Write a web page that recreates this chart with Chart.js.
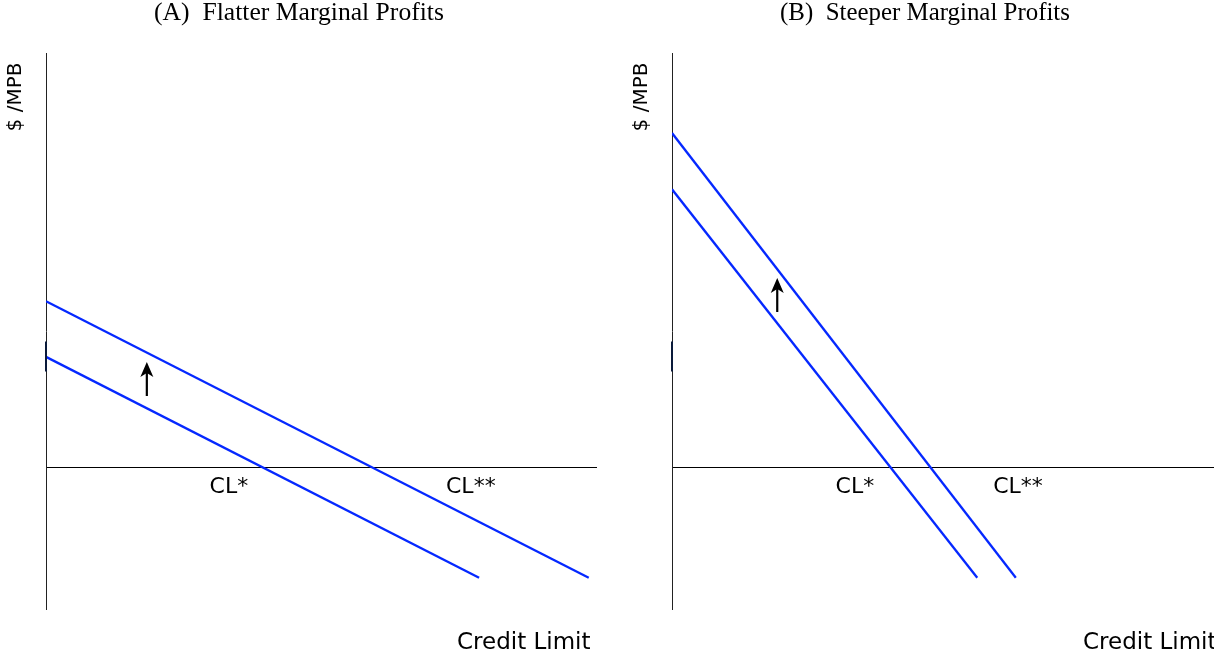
<!DOCTYPE html>
<html>
<head>
<meta charset="utf-8">
<script src="https://cdn.jsdelivr.net/npm/chart.js@4.4.1/dist/chart.umd.min.js"></script>
<style>
html,body{margin:0;padding:0;background:#fff;overflow:hidden;width:1214px;height:649px}
#wrap{position:relative;width:1214px;height:649px;overflow:hidden;background:#fff}
canvas{position:absolute;top:0}
#cA{left:0}
#cB{left:626px}
</style>
</head>
<body>
<div id="wrap">
<canvas id="cA" width="598" height="649"></canvas>
<canvas id="cB" width="598" height="649"></canvas>
</div>
<script>
// ---- data ----
const titles = ["(A)  Flatter Marginal Profits", "(B)  Steeper Marginal Profits"];
const xAxisLabel = "Credit Limit";
const yAxisLabel = "$ /MPB";
const curveLabels = ["CL*", "CL**"];
const xRange = [0, 10];
const yRange = [-2.5, 7.29];
// panel A lines (start, end)
const lowerA = [{x: 0, y: 1.94}, {x: 7.86, y: -1.95}];
const upperA = [{x: 0, y: 2.92}, {x: 9.85, y: -1.95}];
// panel B lines
const lowerB = [{x: 0, y: 4.89}, {x: 5.54, y: -1.95}];
const upperB = [{x: 0, y: 5.88}, {x: 6.24, y: -1.95}];
// label x-positions (CL*, CL**) and label y
const clPosA = [3.32, 7.71];
const clPosB = [3.32, 6.28];
const clY = -0.36;
// arrows: [x, yFrom, yTo]
const arrowA = [1.83, 1.25, 1.85];
const arrowB = [1.91, 2.73, 3.33];
// small mark on vertical axis [yFrom, yTo]
const axisMark = [1.68, 2.21];

const BLUE = "rgb(5,40,255)";

function overlay(idx, clPos, arrow) {
  return {
    id: "overlay" + idx,
    afterDraw(chart) {
      const ctx = chart.ctx, a = chart.chartArea;
      const xs = chart.scales.x, ys = chart.scales.y;
      ctx.save();
      // title
      ctx.fillStyle = "#000";
      ctx.textAlign = "center";
      ctx.textBaseline = "middle";
      let fs = 24;
      ctx.font = fs + "px 'Liberation Serif', serif";
      const w = ctx.measureText(titles[idx]).width;
      fs = fs * 290 / w;
      ctx.font = fs.toFixed(2) + "px 'Liberation Serif', serif";
      ctx.fillText(titles[idx], 299, 13);
      // y axis label
      ctx.save();
      ctx.translate(16, 97);
      ctx.rotate(-Math.PI / 2);
      ctx.font = "20px 'DejaVu Sans', sans-serif";
      ctx.textAlign = "center";
      ctx.textBaseline = "middle";
      ctx.fillText(yAxisLabel, 0, 0);
      ctx.restore();
      // x axis label
      ctx.font = "23px 'DejaVu Sans', sans-serif";
      ctx.textAlign = "left";
      ctx.textBaseline = "alphabetic";
      ctx.fillText(xAxisLabel, a.left + 411, 649);
      // CL labels
      ctx.font = "22px 'DejaVu Sans', sans-serif";
      ctx.textAlign = "center";
      ctx.textBaseline = "middle";
      curveLabels.forEach((t, i) => {
        ctx.fillText(t, xs.getPixelForValue(clPos[i]), ys.getPixelForValue(clY));
      });
      // axis mark
      ctx.strokeStyle = "#0a1a3a";
      ctx.lineWidth = 2;
      ctx.beginPath();
      ctx.moveTo(a.left, ys.getPixelForValue(axisMark[0]));
      ctx.lineTo(a.left, ys.getPixelForValue(axisMark[1]));
      ctx.stroke();
      // arrow
      const ax = xs.getPixelForValue(arrow[0]);
      const y0 = ys.getPixelForValue(arrow[1]);
      const y1 = ys.getPixelForValue(arrow[2]);
      ctx.strokeStyle = "#000";
      ctx.fillStyle = "#000";
      ctx.lineWidth = 2.2;
      ctx.beginPath();
      ctx.moveTo(ax, y0);
      ctx.lineTo(ax, y1 + 8);
      ctx.stroke();
      ctx.beginPath();
      ctx.moveTo(ax, y1);
      ctx.lineTo(ax + 6.5, y1 + 15);
      ctx.lineTo(ax, y1 + 11);
      ctx.lineTo(ax - 6.5, y1 + 15);
      ctx.closePath();
      ctx.fill();
      ctx.restore();
    }
  };
}

function makeChart(id, idx, lower, upper, clPos, arrow) {
  return new Chart(document.getElementById(id), {
    type: "line",
    data: {
      datasets: [
        {data: lower, borderColor: BLUE, borderWidth: 2.3, pointRadius: 0, fill: false},
        {data: upper, borderColor: BLUE, borderWidth: 2.3, pointRadius: 0, fill: false}
      ]
    },
    options: {
      responsive: false,
      animation: false,
      devicePixelRatio: 1,
      layout: {padding: {left: 46, top: 53, right: 1, bottom: 40}},
      plugins: {legend: {display: false}, tooltip: {enabled: false}, title: {display: false}},
      scales: {
        x: {type: "linear", min: xRange[0], max: xRange[1], display: false},
        y: {
          type: "linear", min: yRange[0], max: yRange[1],
          afterBuildTicks: s => { s.ticks = [{value: 0}]; },
          ticks: {display: false},
          grid: {drawTicks: false, color: "#000", lineWidth: 1},
          border: {display: true, color: "#222", width: 1}
        }
      }
    },
    plugins: [overlay(idx, clPos, arrow)]
  });
}

makeChart("cA", 0, lowerA, upperA, clPosA, arrowA);
makeChart("cB", 1, lowerB, upperB, clPosB, arrowB);
</script>
</body>
</html>
